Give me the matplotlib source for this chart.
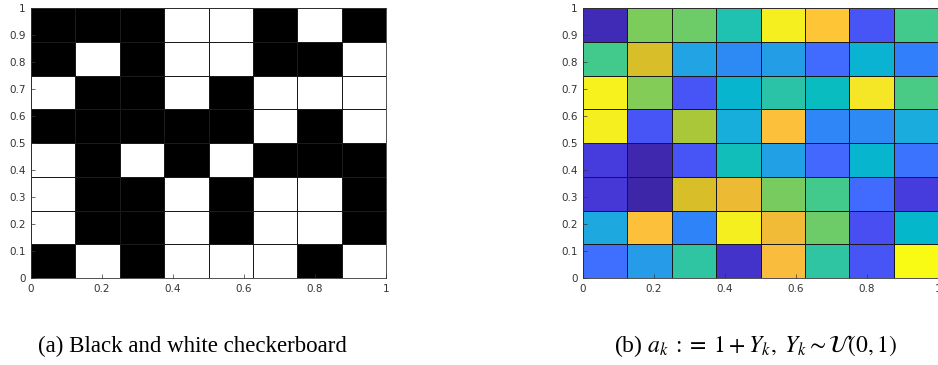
import numpy as np
import matplotlib
matplotlib.use("Agg")
import matplotlib.pyplot as plt
from matplotlib.colors import LinearSegmentedColormap, ListedColormap

# rows listed top to bottom, 1 = black
board = [[1, 1, 1, 0, 0, 1, 0, 1],
         [1, 0, 1, 0, 0, 1, 1, 0],
         [0, 1, 1, 0, 1, 0, 0, 0],
         [1, 1, 1, 1, 1, 0, 1, 0],
         [0, 1, 0, 1, 0, 1, 1, 1],
         [0, 1, 1, 0, 1, 0, 0, 1],
         [0, 1, 1, 0, 1, 0, 0, 1],
         [1, 0, 1, 0, 0, 0, 1, 0]]

# Y_k values, rows top to bottom
yk = [[0.02, 0.65, 0.635, 0.51, 0.95, 0.85, 0.15, 0.58],
      [0.58, 0.76, 0.37, 0.29, 0.35, 0.21, 0.43, 0.26],
      [0.96, 0.66, 0.15, 0.44, 0.53, 0.48, 0.93, 0.59],
      [0.95, 0.15, 0.70, 0.41, 0.83, 0.28, 0.29, 0.40],
      [0.08, 0.01, 0.15, 0.49, 0.36, 0.20, 0.44, 0.23],
      [0.07, 0.00, 0.76, 0.79, 0.645, 0.58, 0.21, 0.08],
      [0.39, 0.83, 0.27, 0.95, 0.80, 0.635, 0.13, 0.45],
      [0.22, 0.34, 0.54, 0.05, 0.82, 0.54, 0.15, 1.00]]

xticks = [0, 0.2, 0.4, 0.6, 0.8, 1]
yticks = [0, 0.1, 0.2, 0.3, 0.4, 0.5, 0.6, 0.7, 0.8, 0.9, 1]
captions = ["(a) Black and white checkerboard",
            r"(b) $a_k \;{:=}\; 1 + Y_k,\; Y_k \sim \mathcal{U}(0,1)$"]

# MATLAB parula, every second entry of the 64-colour table
parula_pts = [
    (0.2422, 0.1504, 0.6603), (0.2578, 0.1818, 0.7511), (0.2706, 0.2147, 0.8364),
    (0.2783, 0.2559, 0.8991), (0.2813, 0.3006, 0.9414), (0.2795, 0.3447, 0.9717),
    (0.2699, 0.3892, 0.9906), (0.2440, 0.4358, 0.9988), (0.1963, 0.4847, 0.9892),
    (0.1786, 0.5289, 0.9682), (0.1687, 0.5703, 0.9359), (0.1460, 0.6091, 0.9079),
    (0.1248, 0.6459, 0.8883), (0.0952, 0.6798, 0.8598), (0.0297, 0.7082, 0.8163),
    (0.0067, 0.7312, 0.7660), (0.0964, 0.7500, 0.7120), (0.1717, 0.7670, 0.6554),
    (0.2161, 0.7843, 0.5923), (0.2906, 0.7973, 0.5188), (0.3909, 0.8029, 0.4354),
    (0.5044, 0.7993, 0.3480), (0.6174, 0.7876, 0.2612), (0.7242, 0.7698, 0.1910),
    (0.8203, 0.7498, 0.1535), (0.9035, 0.7330, 0.1774), (0.9728, 0.7298, 0.2394),
    (0.9970, 0.7659, 0.2199), (0.9892, 0.8136, 0.1885), (0.9676, 0.8639, 0.1643),
    (0.9597, 0.9135, 0.1423), (0.9691, 0.9606, 0.1064), (0.9769, 0.9839, 0.0805)]
parula = LinearSegmentedColormap.from_list("parula", parula_pts)

plt.rcParams["mathtext.fontset"] = "stix"

fig = plt.figure(figsize=(9.38, 3.65), dpi=100)
ax1 = fig.add_axes([31 / 938, 1 - 278 / 365, 355 / 938, 270 / 365])
ax2 = fig.add_axes([583 / 938, 1 - 278 / 365, 355 / 938, 270 / 365])

edges = np.linspace(0, 1, 9)
ax1.pcolormesh(edges, edges, np.flipud(np.array(board)),
               cmap=ListedColormap(["white", "black"]),
               edgecolor="#1a1a1a", linewidth=0.6)
ax2.pcolormesh(edges, edges, np.flipud(np.array(yk)), cmap=parula,
               edgecolor="#1a1a1a", linewidth=0.6)

for ax in (ax1, ax2):
    ax.set_xlim(0, 1)
    ax.set_ylim(0, 1)
    ax.set_xticks(xticks)
    ax.set_xticklabels([f"{t:g}" for t in xticks])
    ax.set_yticks(yticks)
    ax.set_yticklabels([f"{t:g}" for t in yticks])
    ax.tick_params(direction="in", length=3, width=0.5, labelsize=7.5,
                   colors="#333333", pad=4)
    for s in ax.spines.values():
        s.set_color("#333333")
        s.set_linewidth(0.6)

fig.text(192 / 938, 1 - 346 / 365, captions[0], ha="center", va="center",
         family="Liberation Serif", fontsize=16.5)
fig.text(756 / 938, 1 - 346 / 365, captions[1], ha="center", va="center",
         family="Liberation Serif", fontsize=17)

fig.savefig("out.png", dpi=100)
